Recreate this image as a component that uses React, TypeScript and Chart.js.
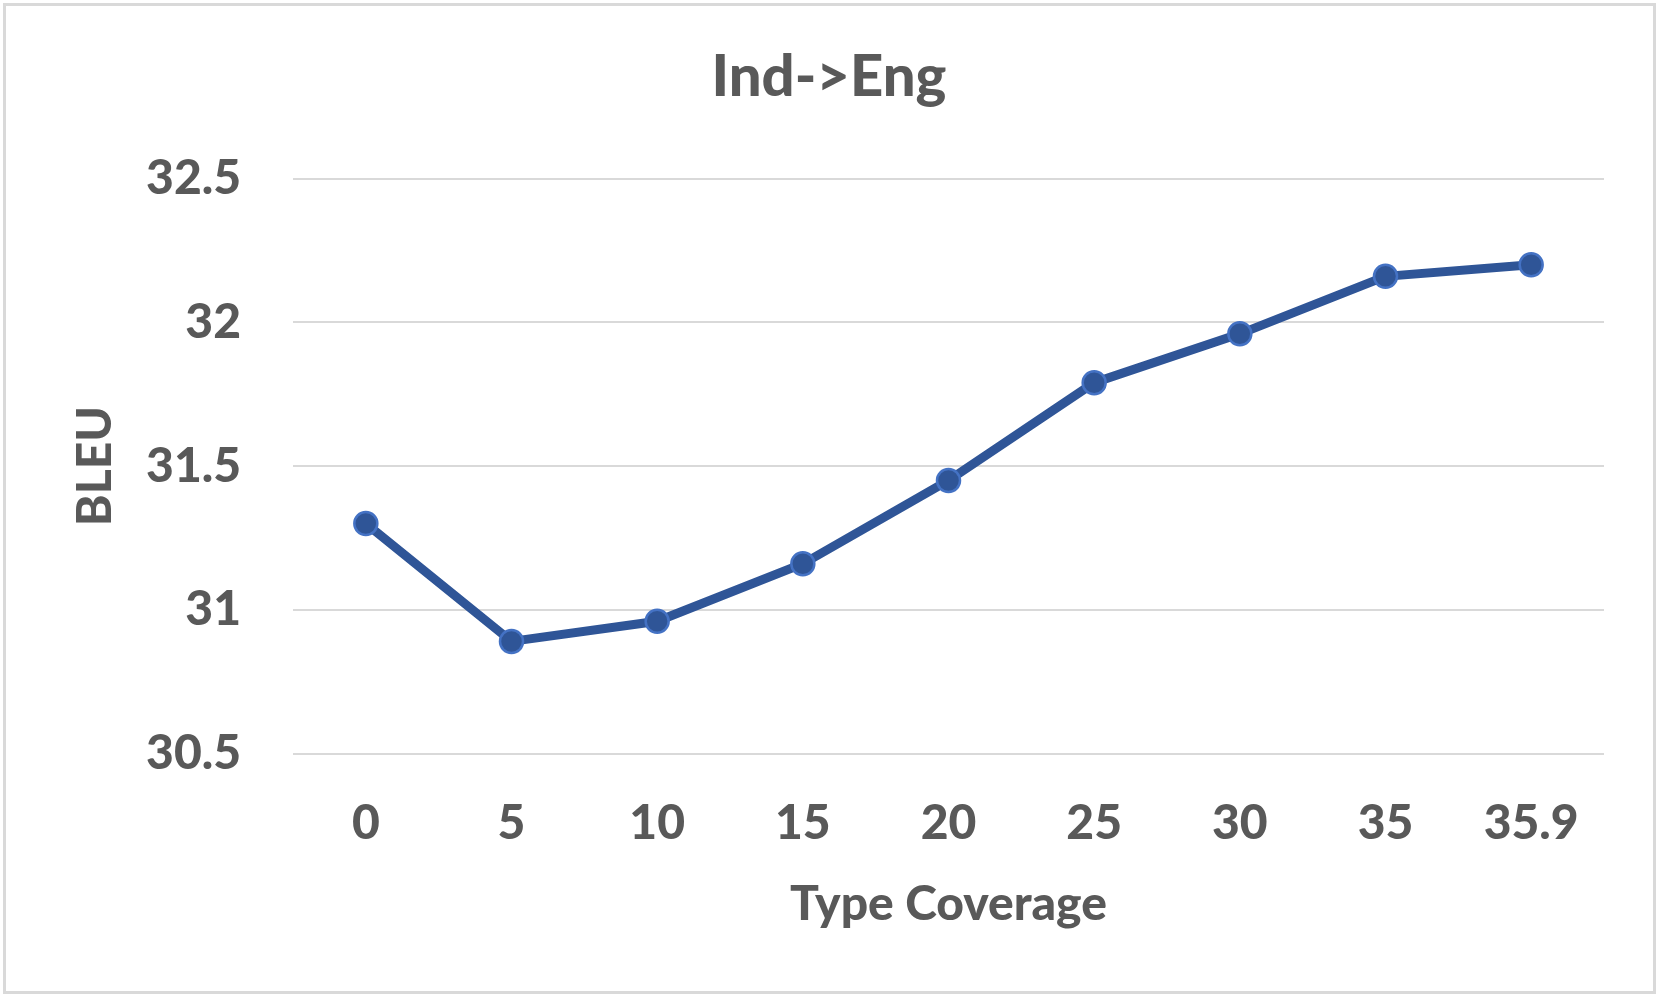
import React, { useEffect, useRef } from "react";
import { Chart, registerables } from "chart.js";

Chart.register(...registerables);

const categories: string[] = ["0", "5", "10", "15", "20", "25", "30", "35", "35.9"];
const bleuValues: number[] = [31.3, 30.89, 30.96, 31.16, 31.45, 31.79, 31.96, 32.16, 32.2];
const yTickValues: number[] = [30.5, 31, 31.5, 32, 32.5];

const TEXT = "#595959";
const FONT = "Lato, 'Open Sans', sans-serif";
const WEIGHT = "900";

export default function App() {
  const ref = useRef<HTMLCanvasElement | null>(null);

  useEffect(() => {
    document.body.style.margin = "0";
    if (!ref.current) return;
    const chart = new Chart(ref.current, {
      type: "line",
      data: {
        labels: categories,
        datasets: [
          {
            label: "BLEU",
            data: bleuValues,
            borderColor: "#2F5597",
            borderWidth: 9,
            backgroundColor: "#2F5597",
            pointBackgroundColor: "#2F5597",
            pointBorderColor: "#4472C4",
            pointBorderWidth: 2.5,
            pointRadius: 11.5,
            tension: 0,
          },
        ],
      },
      options: {
        animation: false,
        responsive: false,
        devicePixelRatio: 1,
        layout: { padding: { top: 30, left: 54, right: 59, bottom: 60 } },
        plugins: {
          legend: { display: false },
          tooltip: { enabled: false },
          title: {
            display: true,
            text: "Ind->Eng",
            color: TEXT,
            font: { family: FONT, size: 58, weight: WEIGHT as any },
            padding: { top: 12, bottom: 67 },
          },
        },
        scales: {
          x: {
            type: "category",
            offset: true,
            grid: { display: false, drawTicks: false },
            border: { display: false },
            ticks: {
              color: TEXT,
              font: { family: FONT, size: 48, weight: WEIGHT as any },
              padding: 41,
              maxRotation: 0,
            },
            title: {
              display: true,
              text: "Type Coverage",
              color: TEXT,
              font: { family: FONT, size: 48, weight: WEIGHT as any },
              padding: { top: 23, bottom: 6 },
            },
            afterFit: (scale: any) => {
              scale.height = 185.5;
            },
          },
          y: {
            type: "linear",
            min: 30.5,
            max: 32.5,
            grid: { color: "#D9D9D9", lineWidth: 2, drawTicks: false },
            border: { display: false },
            afterBuildTicks: (scale: any) => {
              scale.ticks = yTickValues.map((v) => ({ value: v }));
            },
            ticks: {
              color: TEXT,
              font: { family: FONT, size: 48, weight: WEIGHT as any },
              padding: 52,
              callback: (v: any) => String(v),
            },
            title: {
              display: true,
              text: "BLEU",
              color: TEXT,
              font: { family: FONT, size: 48, weight: WEIGHT as any },
              padding: { top: 13, bottom: 10 },
            },
            afterFit: (scale: any) => {
              scale.width = 239;
            },
          },
        },
      },
    });
    return () => chart.destroy();
  }, []);

  return (
    <div style={{ position: "fixed", left: 0, top: 0, width: 1663, height: 999, background: "#fff" }}>
      <div
        style={{
          position: "absolute",
          left: 3,
          top: 3,
          width: 1647,
          height: 985,
          border: "3px solid #D9D9D9",
        }}
      />
      <canvas ref={ref} width={1663} height={999} style={{ position: "absolute", left: 0, top: 0 }} />
    </div>
  );
}
